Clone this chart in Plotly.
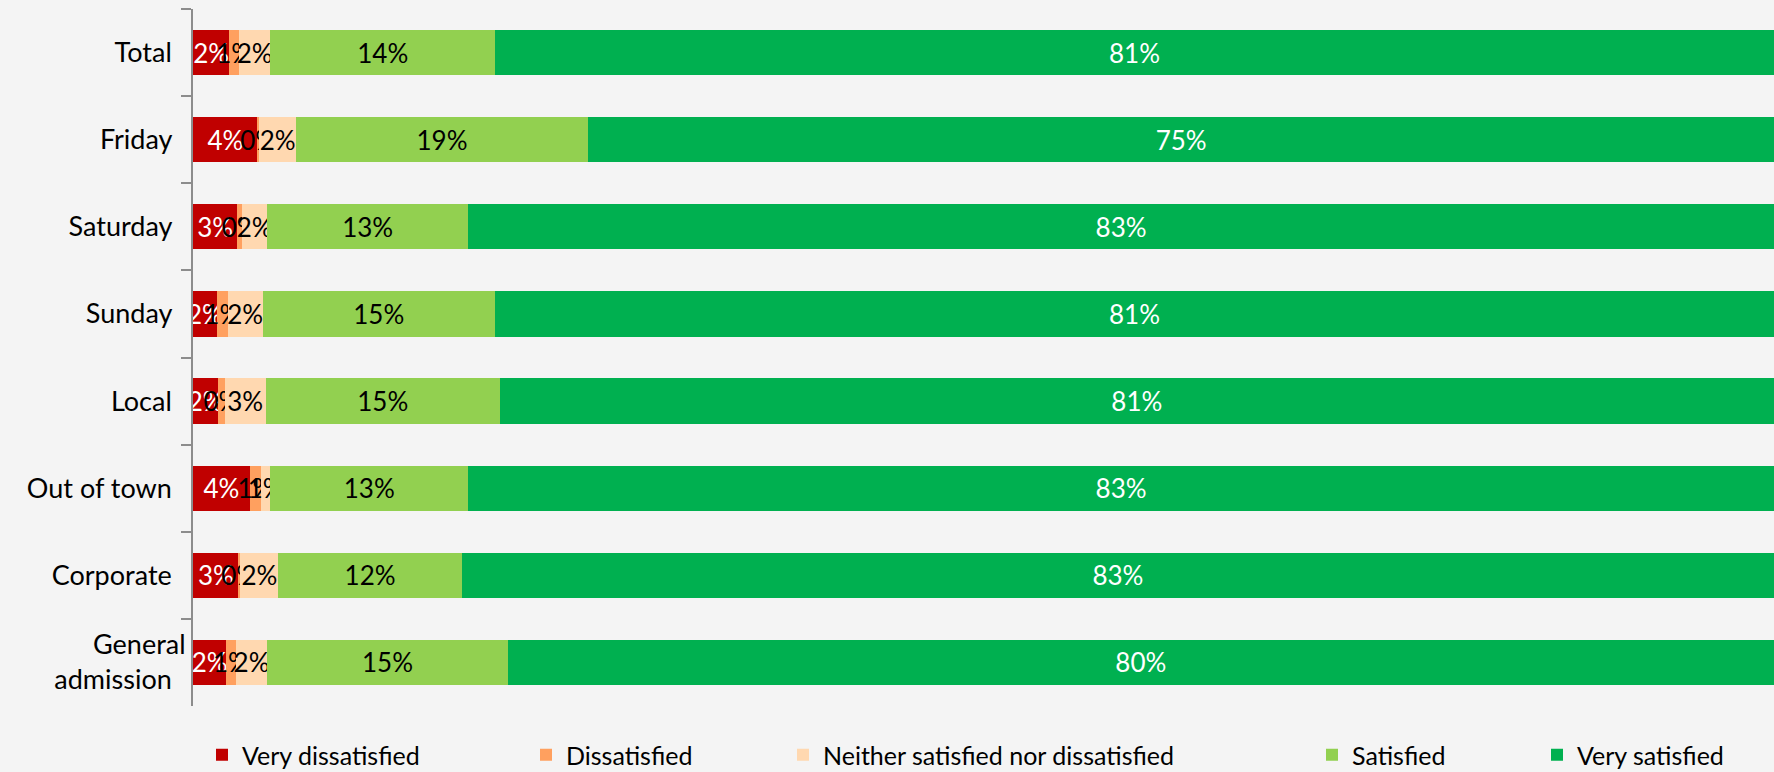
import plotly.graph_objects as go

categories = ["Total", "Friday", "Saturday", "Sunday", "Local", "Out of town",
              "Corporate", "General<br>admission"]
series_names = ["Very dissatisfied", "Dissatisfied",
                "Neither satisfied nor dissatisfied", "Satisfied", "Very satisfied"]
very_dissatisfied = [2.3, 4.1, 2.8, 1.5, 1.6, 3.6, 2.9, 2.1]
dissatisfied = [0.6, 0.1, 0.3, 0.7, 0.4, 0.7, 0.1, 0.6]
neither = [2.0, 2.3, 1.6, 2.2, 2.6, 0.6, 2.4, 2.0]
satisfied = [14.2, 18.5, 12.7, 14.7, 14.8, 12.5, 11.6, 15.2]
very_satisfied = [80.9, 75.0, 82.6, 80.9, 80.6, 82.6, 83.0, 80.1]

series_values = [very_dissatisfied, dissatisfied, neither, satisfied, very_satisfied]
colors = ["#C00000", "#FFA05F", "#FFD8B0", "#92D050", "#00B050"]
text_colors = ["white", "black", "black", "black", "white"]

FONT = "Lato"
W, H = 1774, 772
ML, MR, MT, MB = 193, 0, 9, 66
PW = W - ML - MR
PH = H - MT - MB

# legend marker pixel positions (left edge of marker)
legend_px = [212, 536, 793, 1322, 1547]
legend_names = ["legend", "legend2", "legend3", "legend4", "legend5"]

fig = go.Figure()
for i, (name, vals) in enumerate(zip(series_names, series_values)):
    fig.add_trace(go.Bar(
        y=categories, x=vals, name=name, orientation="h",
        marker=dict(color=colors[i], line=dict(width=0)),
        texttemplate="%{x:.0f}%", textposition="inside",
        insidetextanchor="middle", textangle=0,
        textfont=dict(family=FONT, size=26, color=text_colors[i]),
        constraintext="none", showlegend=True,
        legend=legend_names[i],
    ))

layout_legends = {}
for i, ln in enumerate(legend_names):
    layout_legends[ln] = dict(
        x=(legend_px[i] - 10 - ML) / PW, xanchor="left",
        y=-(755 - (H - MB)) / PH, yanchor="middle",
        orientation="h", bgcolor="rgba(0,0,0,0)",
        font=dict(family=FONT, size=25, color="black"),
        itemwidth=30, tracegroupgap=0, visible=True,
    )

fig.update_layout(
    width=W, height=H,
    margin=dict(l=ML, r=MR, t=MT, b=MB, autoexpand=False),
    barmode="stack", bargap=0.48, showlegend=True,
    paper_bgcolor="#f4f4f4", plot_bgcolor="rgba(0,0,0,0)",
    uniformtext=dict(minsize=26, mode="show"),
    xaxis=dict(range=[0, 100], visible=False, fixedrange=True),
    yaxis=dict(autorange="reversed", showline=True, linecolor="#8c8c8c",
               linewidth=2, ticks="outside", tickson="boundaries",
               ticklen=10, tickcolor="#8c8c8c", tickwidth=2,
               showgrid=False, ticksuffix="  ", automargin=False,
               tickfont=dict(family=FONT, size=27, color="black")),
    **layout_legends,
)

fig.write_html(
    "out.html",
    config={"displayModeBar": False},
    post_script="document.body.style.margin='0';document.body.style.overflow='hidden';",
)
